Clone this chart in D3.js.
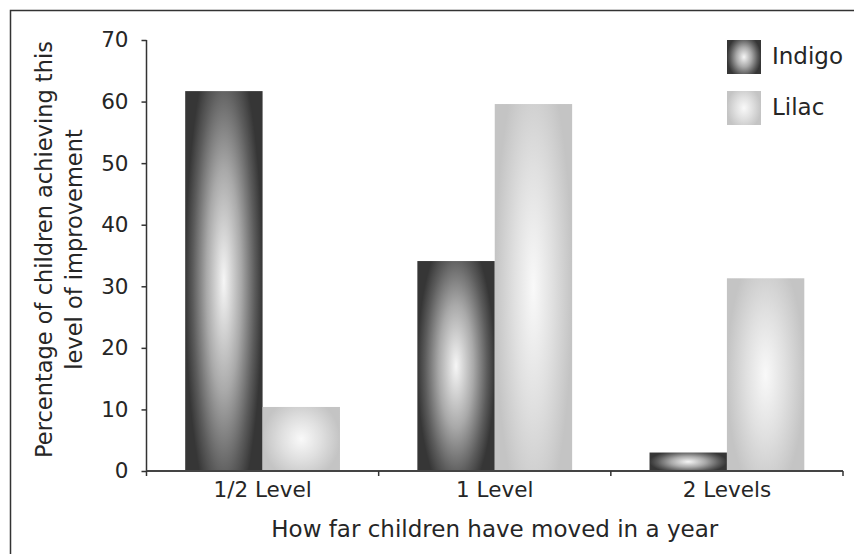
<!DOCTYPE html>
<html>
<head>
<meta charset="utf-8">
<script src="https://cdn.jsdelivr.net/npm/d3@7"></script>
<style>
  html, body { margin: 0; padding: 0; background: #fff; }
  svg { display: block; }
  text { font-family: "DejaVu Sans", sans-serif; fill: #262626; }
</style>
</head>
<body>
<script>
// Chart data
const categories = ["1/2 Level", "1 Level", "2 Levels"];
const seriesNames = ["Indigo", "Lilac"];
const indigoValues = [61.7, 34.1, 3.0];
const lilacValues = [10.4, 59.6, 31.3];
const yTicks = [0, 10, 20, 30, 40, 50, 60, 70];
const xTitle = "How far children have moved in a year";
const yTitleLines = ["Percentage of children achieving this", "level of improvement"];

const W = 854, H = 554;
const plot = { left: 146.5, right: 843, top: 40, bottom: 471 };

const svg = d3.select("body").append("svg")
  .attr("width", W).attr("height", H);

// Gradients: bright centre fading to a darker rim
const defs = svg.append("defs");
const gradStops = {
  Indigo: [[0, "#f6f6f6"], [0.45, "#a9a9a9"], [0.8, "#5c5c5c"], [1, "#363636"]],
  Lilac: [[0, "#f9f9f9"], [0.5, "#e0e0e0"], [1, "#c4c4c4"]]
};
seriesNames.forEach(name => {
  const g = defs.append("radialGradient")
    .attr("id", "grad-" + name)
    .attr("cx", 0.5).attr("cy", 0.5).attr("r", 0.5)
    .attr("gradientTransform", "translate(0.5,0.5) scale(1,1.3) translate(-0.5,-0.5)");
  gradStops[name].forEach(([o, c]) => g.append("stop").attr("offset", o).attr("stop-color", c));
});

// Chart area frame
svg.append("rect")
  .attr("x", 10.5).attr("y", 10.5)
  .attr("width", 860).attr("height", 560)
  .attr("fill", "none").attr("stroke", "#333").attr("stroke-width", 1.5);

const x0 = d3.scaleBand().domain(categories).range([plot.left, plot.right]).padding(0);
const x1 = d3.scaleBand().domain(seriesNames).range([0, x0.bandwidth()])
  .paddingInner(0).paddingOuter(0.5);
const y = d3.scaleLinear().domain([0, 70]).range([plot.bottom, plot.top]);

const rows = categories.map((c, i) => ({ cat: c, Indigo: indigoValues[i], Lilac: lilacValues[i] }));

// Bars
const groups = svg.append("g").selectAll("g")
  .data(rows).join("g")
  .attr("transform", d => `translate(${x0(d.cat)},0)`);
groups.selectAll("rect")
  .data(d => seriesNames.map(s => ({ s, v: d[s] })))
  .join("rect")
  .attr("x", d => x1(d.s))
  .attr("y", d => y(d.v))
  .attr("width", x1.bandwidth())
  .attr("height", d => y(0) - y(d.v))
  .attr("fill", d => `url(#grad-${d.s})`);

// Y axis
const yAxis = svg.append("g")
  .attr("transform", `translate(${plot.left},0)`)
  .call(d3.axisLeft(y).tickValues(yTicks).tickSize(5).tickPadding(13).tickFormat(d3.format("d")));
yAxis.select(".domain").attr("stroke", "#333").attr("stroke-width", 1.5).attr("d", `M0,${plot.top}V${plot.bottom}`);
yAxis.selectAll(".tick line").attr("stroke", "#333").attr("stroke-width", 1.5);
yAxis.selectAll(".tick text").attr("font-size", 21.5).attr("fill", "#262626")
  .style("font-family", '"DejaVu Sans", sans-serif');

// X axis: ticks sit on category boundaries
const xAxisG = svg.append("g").attr("transform", `translate(0,${plot.bottom})`);
const boundaries = categories.map(c => x0(c)).concat([plot.right]);
xAxisG.append("line")
  .attr("x1", plot.left).attr("x2", plot.right)
  .attr("stroke", "#444").attr("stroke-width", 2);
xAxisG.selectAll("line.tk").data(boundaries).join("line")
  .attr("class", "tk")
  .attr("x1", d => d).attr("x2", d => d)
  .attr("y1", 0).attr("y2", 5)
  .attr("stroke", "#333").attr("stroke-width", 1.5);
xAxisG.selectAll("text").data(categories).join("text")
  .attr("x", d => x0(d) + x0.bandwidth() / 2)
  .attr("y", 26)
  .attr("text-anchor", "middle")
  .attr("font-size", 21.5)
  .text(d => d);

// Axis titles
svg.append("text")
  .attr("x", (plot.left + plot.right) / 2)
  .attr("y", 537)
  .attr("text-anchor", "middle")
  .attr("font-size", 23)
  .text(xTitle);

const yTitle = svg.append("text")
  .attr("transform", `translate(0,${(plot.top + plot.bottom) / 2 - 6}) rotate(-90)`)
  .attr("text-anchor", "middle")
  .attr("font-size", 22.5);
yTitle.selectAll("tspan").data(yTitleLines).join("tspan")
  .attr("x", 0)
  .attr("y", (d, i) => 52 + i * 30)
  .text(d => d);

// Legend
const legend = svg.append("g");
const legendRows = legend.selectAll("g").data(seriesNames).join("g")
  .attr("transform", (d, i) => `translate(727,${40 + i * 51})`);
legendRows.append("rect")
  .attr("width", 34).attr("height", 34)
  .attr("fill", d => `url(#grad-${d})`);
legendRows.append("text")
  .attr("x", 45).attr("y", 24)
  .attr("font-size", 23)
  .text(d => d);
</script>
</body>
</html>
